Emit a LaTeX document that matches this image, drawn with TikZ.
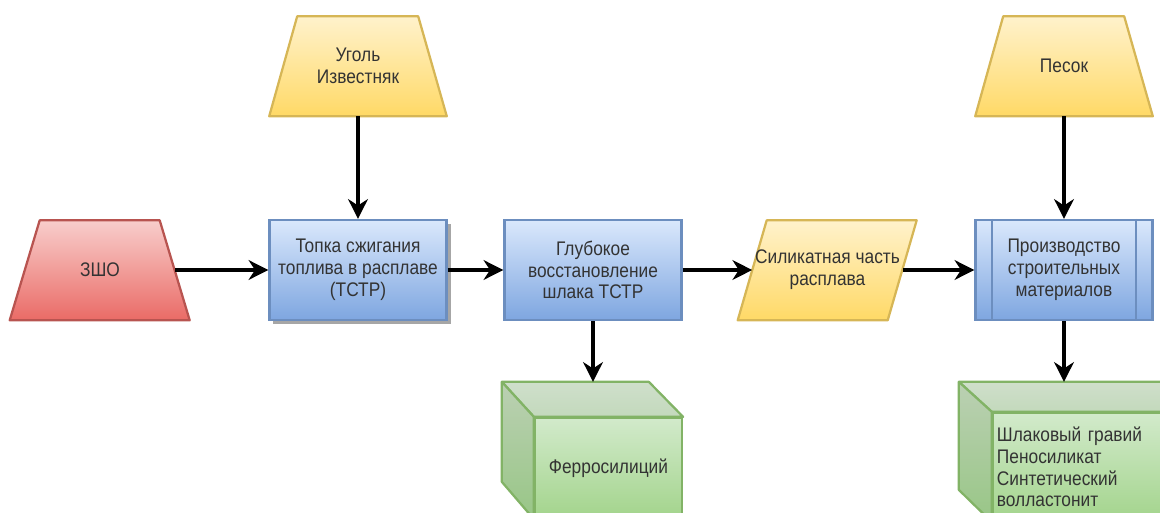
\documentclass[tikz,border=0pt]{standalone}
\usepackage{fontspec}
\setmainfont{Liberation Sans}[FakeStretch=0.88]
\usetikzlibrary{backgrounds}
\usetikzlibrary{shadows}
\usetikzlibrary{arrows.meta}

\definecolor{txtgray}{HTML}{333333}
\definecolor{redline}{HTML}{B85450}
\definecolor{redtop}{HTML}{F8CECC}
\definecolor{redbot}{HTML}{EA6B66}
\definecolor{blueline}{HTML}{6C8EBF}
\definecolor{bluetop}{HTML}{DAE8FC}
\definecolor{bluebot}{HTML}{7EA6E0}
\definecolor{yelline}{HTML}{D6B656}
\definecolor{yeltop}{HTML}{FFF2CC}
\definecolor{yelbot}{HTML}{FFD966}
\definecolor{grnline}{HTML}{82B366}
\definecolor{grntop}{HTML}{D2EACB}
\definecolor{grnbot}{HTML}{A3D48C}
\definecolor{grnlidtop}{HTML}{CFDFCB}
\definecolor{grnlidbot}{HTML}{C3D9BC}
\definecolor{grnsidetop}{HTML}{BBD0B3}
\definecolor{grnsidebot}{HTML}{98C686}

\begin{document}
\begin{tikzpicture}[x=0.025cm,y=-0.025cm,
font=\fontsize{14}{15.5}\selectfont,text=txtgray,
procblock/.style={draw=blueline,rectangle,line width=1.6pt,top color=bluetop,bottom color=bluebot,minimum width=4.425cm,minimum height=2.5cm,align=center,inner sep=2pt},
textbox/.style={rectangle,minimum height=2.5cm,align=center,inner sep=0pt},
rawshape/.style={draw=yelline,line width=1.6pt,line join=round,top color=yeltop,bottom color=yelbot},
wasteshape/.style={draw=redline,line width=1.6pt,line join=round,top color=redtop,bottom color=redbot},
cubefront/.style={draw=grnline,rectangle,line width=1.6pt,top color=grntop,bottom color=grnbot,inner sep=0.1cm},
cubetop/.style={draw=grnline,line width=1.6pt,line join=round,top color=grnlidtop,bottom color=grnlidbot},
cubeleft/.style={draw=grnline,line width=1.6pt,line join=round,top color=grnsidetop,bottom color=grnsidebot},
flow/.style={line width=2.6pt,draw=black,-{Stealth[length=14pt,width=14pt,inset=4.5pt]}}]

\useasboundingbox (0,0) rectangle (1160,513);

\draw (100,270) node[textbox,minimum width=3.75cm] (zsho) {ЗШО};
\draw (358,66) node[textbox,minimum width=4.425cm] (ugol) {Уголь\\Известняк};
\draw (358,270) node[procblock,drop shadow={shadow xshift=0.1cm,shadow yshift=-0.1cm,opacity=0.35,fill=black}] (tstr) {Топка сжигания\\топлива в расплаве\\(ТСТР)};
\draw (593,270) node[procblock] (glub) {Глубокое\\восстановление\\шлака ТСТР};
\draw (827.5,270) node[textbox,minimum width=3.75cm] (silic) {Силикатная часть\\расплава};
\draw (1064,66) node[textbox,minimum width=4.425cm] (pesok) {Песок};
\draw (1064,270) node[procblock] (build) {Производство\\строительных\\материалов};
\draw[blueline,line width=1.6pt] (build.north west) ++(18,0) -- ++(0,100);
\draw[blueline,line width=1.6pt] (build.north east) ++(-18,0) -- ++(0,100);

% shapes behind the texts
\begin{scope}[on background layer]
\draw[wasteshape] (zsho.south west) ++(-15,0) -- ++(30,-100) -- ++(120,0) -- ++(30,100) -- cycle;
\draw[rawshape] (ugol.south west) -- ++(28,-100) -- ++(121,0) -- (ugol.south east) -- cycle;
\draw[rawshape] (pesok.south west) -- ++(28,-100) -- ++(121,0) -- (pesok.south east) -- cycle;
\draw[rawshape] (silic.south west) ++(-14.5,0) -- ++(29,-100) -- ++(150,0) -- ++(-29,100) -- cycle;
\end{scope}

% cubes
\draw (608.5,468) node[cubefront,minimum width=3.675cm,minimum height=2.5cm] (ferro) {Ферросилиций};
\draw[cubetop] (ferro.north west) -- ++(-32,-35) coordinate (ferroback) -- ++(147,0) -- (ferro.north east) -- cycle;
\draw[cubeleft] (ferro.north west) -- ++(-32,-35) -- ++(0,100) -- (ferro.south west) -- cycle;

\draw (1094,467) node[cubefront,minimum width=5.05cm,minimum height=2.7cm,text width=4.85cm,align=left] (mater) {Шлаковый гравий\\Пеносиликат\\Синтетический\\волластонит};
\draw[cubetop] (mater.north west) -- ++(-33,-30) coordinate (materback) -- ++(202,0) -- (mater.north east) -- cycle;
\draw[cubeleft] (mater.north west) -- ++(-33,-30) -- ++(0,108) -- (mater.south west) -- cycle;

\draw[flow] (zsho) -- (tstr);
\draw[flow] (ugol) -- (tstr);
\draw[flow] (tstr) -- (glub);
\draw[flow] (glub) -- (silic);
\draw[flow] (silic) -- (build);
\draw[flow] (pesok) -- (build);
\draw[flow] (glub) -- (glub |- ferroback);
\draw[flow] (build) -- (build |- materback);
\end{tikzpicture}
\end{document}
